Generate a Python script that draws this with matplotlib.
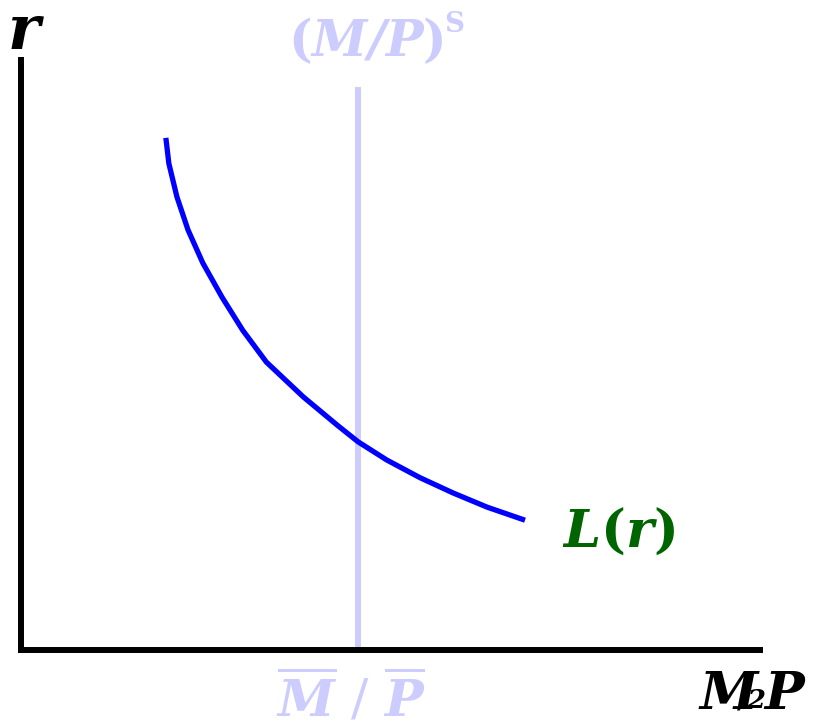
import matplotlib.pyplot as plt

# money demand curve L(r) (axis units 0..10)
demand_x = [1.96, 1.98, 2.00, 2.11, 2.26, 2.46, 2.72, 3.00, 3.32, 3.82, 4.28, 4.56, 4.95, 5.40, 5.85, 6.31, 6.82]
demand_y = [8.68, 8.47, 8.25, 7.68, 7.12, 6.56, 5.98, 5.42, 4.88, 4.29, 3.81, 3.53, 3.22, 2.92, 2.66, 2.42, 2.20]

# fixed real money supply (M/P)^s
supply_x = [4.56, 4.56]
supply_y = [0.0, 9.54]

W, H = 826, 721
supply_color = '#ccccff'
demand_color = '#0000ff'
label_green = '#006400'

plt.rcParams['mathtext.fontset'] = 'dejavuserif'

fig = plt.figure(figsize=(W / 100, H / 100), dpi=100)
ax = fig.add_axes([21 / W, (H - 650) / H, (760 - 21) / W, (650 - 60) / H])
ax.set_xlim(0, 10)
ax.set_ylim(0, 10)
ax.set_xticks([])
ax.set_yticks([])
for side in ['top', 'right']:
    ax.spines[side].set_visible(False)
for side in ['left', 'bottom']:
    ax.spines[side].set_linewidth(4.3)
    ax.spines[side].set_color('black')
ax.patch.set_alpha(0)

ax.plot(supply_x, supply_y, color=supply_color, lw=4.3, solid_capstyle='butt', clip_on=False)
ax.plot(demand_x, demand_y, color=demand_color, lw=3.8, solid_capstyle='butt',
        solid_joinstyle='round', clip_on=False)

def label(x, y, s, size, color, **kw):
    fig.text(x / W, 1 - y / H, s, fontsize=size, color=color,
             family='DejaVu Serif', **kw)

# axis labels
label(8, 49, 'r', 44, 'black', weight='bold', style='italic')
label(700, 709, 'M', 38, 'black', weight='bold', style='italic')
label(738, 707, '/2', 19, 'black', weight='bold', style='italic')
label(764, 709, 'P', 38, 'black', weight='bold', style='italic')

# curve labels
label(562, 547, r'$\mathbfit{L}\mathbf{(}\mathbfit{r}\mathbf{)}$', 38, label_green)
label(288, 56, r'$\mathbf{(}\mathbfit{M/P}\mathbf{)}$', 36, supply_color)
label(444, 32, 'S', 20, supply_color, weight='bold')
label(276, 716, r'$\overline{\mathbfit{M}}\ /\ \overline{\mathbfit{P}}$', 37, supply_color)

fig.savefig('out.png', dpi=100)
